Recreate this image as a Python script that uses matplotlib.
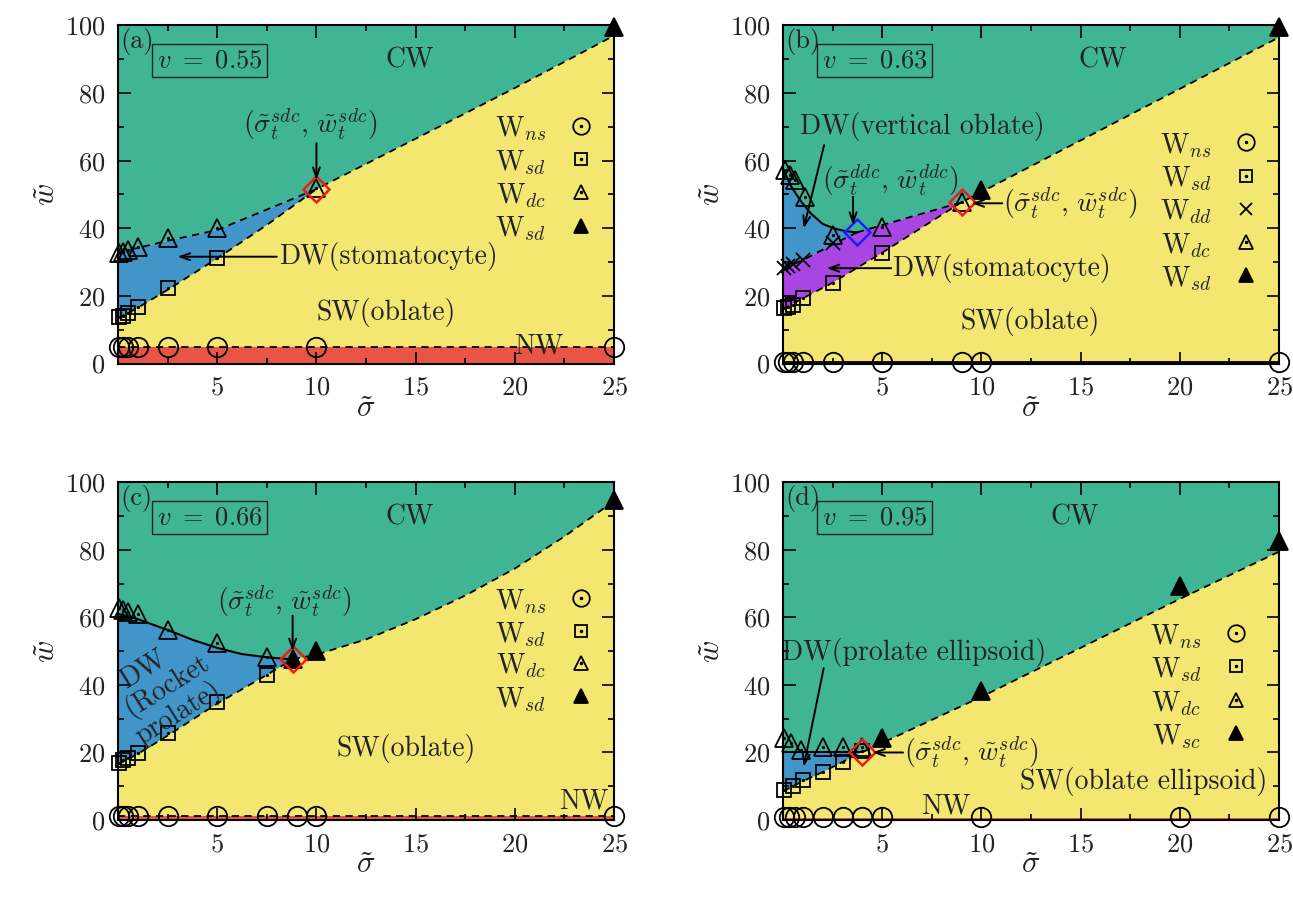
import matplotlib
matplotlib.use('Agg')
import matplotlib.pyplot as plt
from matplotlib.ticker import MultipleLocator, FixedLocator

plt.rcParams['font.family'] = 'serif'
plt.rcParams['font.serif'] = ['cmr10']
plt.rcParams['mathtext.fontset'] = 'cm'
plt.rcParams['axes.formatter.use_mathtext'] = True
plt.rcParams['axes.unicode_minus'] = False

CW_COL = '#40b596'
SW_COL = '#f3e771'
NW_COL = '#e85546'
DW_COL = '#4195c9'
DW2_COL = '#a946e1'
TXT = '#222222'

# ---------- panel (a), v = 0.55 ----------
a_ns_sig = [0.05, 0.25, 0.5, 1, 2.5, 5, 10, 25]
a_ns_w = [5, 5, 5, 5, 5, 5, 5, 5]
a_sd_sig = [0.05, 0.25, 0.5, 1, 2.5, 5]
a_sd_w = [13.8, 14.1, 14.9, 16.8, 22.2, 31.1]
a_dc_sig = [0.05, 0.25, 0.5, 1, 2.5, 5, 10]
a_dc_w = [32.6, 33.1, 33.6, 34.4, 37.0, 40.0, 51.8]
a_sc_sig = [25]
a_sc_w = [99.5]
a_tp = (10, 51.6)
a_up_sig = [0, 1, 2.5, 5, 10, 15, 20, 25]
a_up_w = [33, 34.2, 36.3, 39.5, 51.6, 66.5, 81.5, 97]
a_lo_sig = [0, 1, 2.5, 5, 7.5, 10]
a_lo_w = [13.4, 16.5, 21.8, 31.1, 41, 51.6]
a_nw = 5

# ---------- panel (b), v = 0.63 ----------
b_ns_sig = [0.05, 0.25, 0.5, 1, 2.5, 5, 9, 10, 25]
b_ns_w = [0.5, 0.5, 0.5, 0.5, 0.5, 0.5, 0.5, 0.5, 0.5]
b_sd_sig = [0.05, 0.25, 0.5, 1, 2.5, 5]
b_sd_w = [16.3, 16.8, 17.3, 19.3, 23.9, 32.8]
b_dd_sig = [0.05, 0.25, 0.5, 1, 2.5]
b_dd_w = [28.2, 28.8, 29.4, 30.6, 35.6]
b_dc_sig = [0.1, 0.35, 0.6, 1.1, 2.5, 5, 9]
b_dc_w = [57.2, 55.8, 54.3, 49.3, 38.0, 40.3, 47.7]
b_sc_sig = [10, 25]
b_sc_w = [51.3, 99.5]
b_tp_sdc = (9, 47.7)
b_tp_ddc = (3.73, 38.8)
b_top_sig = [0, 0.4, 0.9, 1.4, 2.0, 2.6, 3.2, 3.73]
b_top_w = [57.5, 52.5, 48.0, 44.4, 41.3, 39.9, 39.1, 38.8]
b_mid_sig = [0, 0.05, 0.25, 0.5, 1, 2.5, 3.73]
b_mid_w = [27.8, 28.0, 28.6, 29.3, 30.6, 35.2, 38.8]
b_up_sig = [3.73, 9, 17, 25]
b_up_w = [38.8, 47.7, 72.1, 96.5]
b_lo_sig = [0, 0.05, 1, 2.5, 5, 9]
b_lo_w = [16.0, 16.3, 19.3, 23.9, 32.8, 47.7]
b_nw = 0.3

# ---------- panel (c), v = 0.66 ----------
c_ns_sig = [0.05, 0.25, 0.5, 1, 2.5, 5, 7.5, 9, 10, 25]
c_ns_w = [1.3, 1.3, 1.3, 1.3, 1.3, 1.3, 1.3, 1.3, 1.3, 1.3]
c_sd_sig = [0.05, 0.25, 0.5, 1, 2.5, 5, 7.5]
c_sd_w = [16.8, 17.8, 18.3, 19.8, 25.7, 35.1, 43.0]
c_dc_sig = [0.05, 0.25, 0.5, 1, 2.5, 5, 7.5]
c_dc_w = [62.7, 62.2, 61.7, 60.9, 56.3, 52.5, 48.4]
c_sc_sig = [8.8, 10, 25]
c_sc_w = [47.7, 50.2, 94.8]
c_tp = (8.8, 47.6)
c_top_sig = [0, 0.5, 1, 2.5, 3.8, 5, 6.2, 7.5, 8.8]
c_top_w = [61, 60.4, 59.5, 56.3, 53.3, 51, 49.2, 48.2, 47.6]
c_up_sig = [8.8, 10, 12.5, 15, 17.5, 20, 22.5, 25]
c_up_w = [47.6, 49, 53.5, 59.5, 66.5, 74.5, 84, 94.5]
c_lo_sig = [0, 1, 2.5, 5, 7.5, 8.8]
c_lo_w = [16.5, 19.6, 25, 34.5, 43, 47.6]
c_nw = 1.3

# ---------- panel (d), v = 0.95 ----------
d_ns_sig = [0.05, 0.3, 0.6, 1, 2, 3, 4, 5, 10, 20, 25]
d_ns_w = [0.8, 0.8, 0.8, 0.8, 0.8, 0.8, 0.8, 0.8, 0.8, 0.8, 0.8]
d_sd_sig = [0.05, 0.5, 1, 2, 3, 4]
d_sd_w = [8.9, 10.2, 11.9, 14.3, 17.3, 20.5]
d_dc_sig = [0.05, 0.4, 0.9, 2, 3, 4]
d_dc_w = [24.2, 22.7, 20.8, 21.6, 21.6, 21.6]
d_sc_sig = [5, 10, 20, 25]
d_sc_w = [24.2, 38.3, 69.2, 82.6]
d_tp = (4.0, 20.1)
d_top_sig = [0, 4.0]
d_top_w = [20.1, 20.1]
d_up_sig = [4.0, 10, 15, 20, 25]
d_up_w = [20.1, 36.5, 51, 65.5, 79.5]
d_lo_sig = [0, 0.5, 1, 2, 3, 4.0]
d_lo_w = [8.5, 10, 11.5, 14.2, 17.2, 20.1]
d_nw = 0.6

MS = {'o': 14, 's': 10, '^': 12.5, 'x': 10}


def style_axes(ax, tag, vol):
    ax.set_facecolor(CW_COL)
    ax.set_xlim(0, 25)
    ax.set_ylim(0, 100)
    ax.set_xticks([5, 10, 15, 20, 25])
    ax.xaxis.set_minor_locator(FixedLocator([2.5, 7.5, 12.5, 17.5, 22.5]))
    ax.set_yticks([0, 20, 40, 60, 80, 100])
    ax.yaxis.set_minor_locator(MultipleLocator(10))
    ax.tick_params(which='both', direction='in', top=True, right=True,
                   width=1.2, labelsize=19, pad=9, colors='k', labelcolor=TXT)
    ax.tick_params(which='major', length=9)
    ax.tick_params(which='minor', length=4.5)
    for sp in ax.spines.values():
        sp.set_linewidth(1.5)
    ax.set_xlabel(r'$\tilde{\sigma}$', fontsize=22, labelpad=-3, color=TXT)
    ax.set_ylabel(r'$\tilde{w}$', fontsize=22, labelpad=3, color=TXT)
    ax.text(0.004, 0.993, tag, transform=ax.transAxes, ha='left', va='top',
            fontsize=19, color=TXT)
    ax.text(0.1845, 0.8964, r'$v\ =\ %s$' % vol, transform=ax.transAxes,
            ha='center', va='center', fontsize=19, color=TXT,
            bbox=dict(boxstyle='square,pad=0.18', fc='none', ec=TXT, lw=1.0))


def marks(ax, sig, w, m, filled=False, dot=False):
    ax.plot(sig, w, ls='none', marker=m, ms=MS[m], mfc='k' if filled else 'none',
            mec='k', mew=1.3, clip_on=False, zorder=5)
    if dot:
        ax.plot(sig, w, ls='none', marker='o', ms=1.3, color='k',
                clip_on=False, zorder=5)


def legend(ax, rows, xt, xm, ys):
    for (lab, m, filled), y in zip(rows, ys):
        ax.text(xt, y, lab, transform=ax.transAxes, ha='right', va='center',
                fontsize=20, color=TXT)
        ax.plot([xm], [y + 0.01], transform=ax.transAxes, marker=m, ms=MS[m] * 0.85,
                mfc='k' if filled else 'none', mec='k', mew=1.3, zorder=6)
        if not filled and m != 'x':
            ax.plot([xm], [y + 0.01], transform=ax.transAxes, marker='o',
                    ms=1.5, color='k', zorder=6)


def arrow(ax, tail, head):
    ax.annotate('', xy=head, xytext=tail, zorder=7,
                arrowprops=dict(arrowstyle='->,head_length=0.7,head_width=0.25',
                                lw=1.4, color='k', shrinkA=0, shrinkB=0))


def dashed(ax, sig, w):
    ax.plot(sig, w, color='k', lw=1.3, ls=(0, (4, 3)), zorder=3)


def solid(ax, sig, w):
    ax.plot(sig, w, color='k', lw=1.5, zorder=3)


def upto(sig, w, lim):
    s = [x for x in sig if x <= lim]
    return s, w[:len(s)]


def tp_marker(ax, p, col):
    ax.plot([p[0]], [p[1]], ls='none', marker='D', ms=13, mfc='none',
            mec=col, mew=1.8, zorder=6, clip_on=False)


def label(ax, x, y, s, ha='center', **kw):
    ax.text(x, y, s, fontsize=20, ha=ha, va='center', color=TXT, zorder=7, **kw)


sdc_lab = r'$(\tilde{\sigma}_t^{sdc},\,\tilde{w}_t^{sdc})$'
ddc_lab = r'$(\tilde{\sigma}_t^{ddc},\,\tilde{w}_t^{ddc})$'
W = lambda s: r'W$_{%s}$' % s

fig = plt.figure(figsize=(12.93, 9), dpi=100)
axa = fig.add_axes([0.0913, 0.5961, 0.3836, 0.3756])
axb = fig.add_axes([0.6056, 0.5961, 0.3836, 0.3756])
axc = fig.add_axes([0.0913, 0.0889, 0.3836, 0.375])
axd = fig.add_axes([0.6056, 0.0889, 0.3836, 0.375])

# ----- (a) -----
ax = axa
style_axes(ax, '(a)', '0.55')
ax.fill(a_up_sig + [25, 0], a_up_w + [0, 0], color=SW_COL, lw=0, zorder=1)
us, uw = upto(a_up_sig, a_up_w, a_tp[0])
ax.fill(us + a_lo_sig[::-1], uw + a_lo_w[::-1], color=DW_COL, lw=0, zorder=1)
ax.fill([0, 25, 25, 0], [0, 0, a_nw, a_nw], color=NW_COL, lw=0, zorder=1)
dashed(ax, a_up_sig, a_up_w)
dashed(ax, a_lo_sig, a_lo_w)
dashed(ax, [0, 25], [a_nw, a_nw])
marks(ax, a_ns_sig, a_ns_w, 'o')
marks(ax, a_sd_sig, a_sd_w, 's', dot=True)
marks(ax, a_dc_sig, a_dc_w, '^', dot=True)
marks(ax, a_sc_sig, a_sc_w, '^', filled=True)
tp_marker(ax, a_tp, '#ee1c1c')
label(ax, 14.7, 89.8, 'CW')
label(ax, 9.7, 70.6, sdc_lab)
arrow(ax, (10, 65.2), (10, 54.3))
label(ax, 8.1, 31.6, 'DW(stomatocyte)', ha='left')
arrow(ax, (8.0, 31.6), (3.0, 31.6))
label(ax, 13.5, 15.2, 'SW(oblate)')
label(ax, 21.2, 5.2, 'NW')
legend(ax, [(W('ns'), 'o', False), (W('sd'), 's', False),
            (W('dc'), '^', False), (W('sd'), '^', True)],
       0.863, 0.933, [0.694, 0.595, 0.497, 0.398])

# ----- (b) -----
ax = axb
style_axes(ax, '(b)', '0.63')
ax.fill(b_top_sig + b_up_sig[1:] + [25, 0], b_top_w + b_up_w[1:] + [0, 0],
        color=SW_COL, lw=0, zorder=1)
ax.fill(b_top_sig + b_mid_sig[::-1], b_top_w + b_mid_w[::-1], color=DW_COL, lw=0, zorder=1)
us, uw = upto(b_up_sig, b_up_w, b_tp_sdc[0])
ax.fill(b_mid_sig + us[1:] + b_lo_sig[::-1], b_mid_w + uw[1:] + b_lo_w[::-1],
        color=DW2_COL, lw=0, zorder=1)
ax.fill([0, 25, 25, 0], [0, 0, b_nw, b_nw], color=NW_COL, lw=0, zorder=1)
solid(ax, b_top_sig, b_top_w)
dashed(ax, b_mid_sig, b_mid_w)
dashed(ax, b_up_sig, b_up_w)
dashed(ax, b_lo_sig, b_lo_w)
ax.plot([0, 25], [b_nw, b_nw], color='k', lw=2, zorder=3)
marks(ax, b_ns_sig, b_ns_w, 'o')
marks(ax, b_sd_sig, b_sd_w, 's', dot=True)
marks(ax, b_dd_sig, b_dd_w, 'x')
marks(ax, b_dc_sig, b_dc_w, '^', dot=True)
marks(ax, b_sc_sig, b_sc_w, '^', filled=True)
tp_marker(ax, b_tp_sdc, '#ee1c1c')
tp_marker(ax, b_tp_ddc, '#1c1cff')
label(ax, 16.1, 89.8, 'CW')
label(ax, 7.0, 70.0, 'DW(vertical oblate)')
arrow(ax, (2.07, 64.6), (1.04, 40.0))
label(ax, 5.4, 54.0, ddc_lab)
arrow(ax, (3.53, 49.3), (3.53, 41.0))
label(ax, 11.1, 47.2, sdc_lab, ha='left')
arrow(ax, (11.05, 47.4), (9.5, 47.4))
label(ax, 5.5, 28.2, 'DW(stomatocyte)', ha='left')
arrow(ax, (5.45, 28.2), (2.2, 28.2))
label(ax, 12.45, 12.3, 'SW(oblate)')
legend(ax, [(W('ns'), 'o', False), (W('sd'), 's', False),
            (W('dd'), 'x', False), (W('dc'), '^', False),
            (W('sd'), '^', True)],
       0.864, 0.934, [0.645, 0.546, 0.448, 0.349, 0.251])

# ----- (c) -----
ax = axc
style_axes(ax, '(c)', '0.66')
ax.fill(c_top_sig + c_up_sig[1:] + [25, 0], c_top_w + c_up_w[1:] + [0, 0],
        color=SW_COL, lw=0, zorder=1)
ax.fill(c_top_sig + c_lo_sig[::-1], c_top_w + c_lo_w[::-1], color=DW_COL, lw=0, zorder=1)
ax.fill([0, 25, 25, 0], [0, 0, c_nw, c_nw], color=NW_COL, lw=0, zorder=1)
solid(ax, c_top_sig, c_top_w)
dashed(ax, c_up_sig, c_up_w)
dashed(ax, c_lo_sig, c_lo_w)
dashed(ax, [0, 25], [c_nw, c_nw])
marks(ax, c_ns_sig, c_ns_w, 'o')
marks(ax, c_sd_sig, c_sd_w, 's', dot=True)
marks(ax, c_dc_sig, c_dc_w, '^', dot=True)
marks(ax, c_sc_sig, c_sc_w, '^', filled=True)
tp_marker(ax, c_tp, '#ee1c1c')
label(ax, 14.7, 89.8, 'CW')
label(ax, 8.4, 64.7, sdc_lab)
arrow(ax, (8.8, 60.5), (8.8, 50.0))
label(ax, 1.25, 44.6, 'DW', rotation=32)
label(ax, 2.45, 39.9, '(Rocket', rotation=32)
label(ax, 3.05, 31.5, 'prolate)', rotation=32)
label(ax, 14.5, 21.3, 'SW(oblate)')
label(ax, 23.5, 5.5, 'NW')
legend(ax, [(W('ns'), 'o', False), (W('sd'), 's', False),
            (W('dc'), '^', False), (W('sd'), '^', True)],
       0.863, 0.933, [0.647, 0.549, 0.456, 0.356])

# ----- (d) -----
ax = axd
style_axes(ax, '(d)', '0.95')
ax.fill(d_top_sig + d_up_sig[1:] + [25, 0], d_top_w + d_up_w[1:] + [0, 0],
        color=SW_COL, lw=0, zorder=1)
ax.fill(d_top_sig + d_lo_sig[::-1], d_top_w + d_lo_w[::-1], color=DW_COL, lw=0, zorder=1)
ax.fill([0, 25, 25, 0], [0, 0, d_nw, d_nw], color=NW_COL, lw=0, zorder=1)
solid(ax, d_top_sig, d_top_w)
dashed(ax, d_up_sig, d_up_w)
dashed(ax, d_lo_sig, d_lo_w)
marks(ax, d_ns_sig, d_ns_w, 'o')
marks(ax, d_sd_sig, d_sd_w, 's', dot=True)
marks(ax, d_dc_sig, d_dc_w, '^', dot=True)
marks(ax, d_sc_sig, d_sc_w, '^', filled=True)
tp_marker(ax, d_tp, '#ee1c1c')
label(ax, 14.7, 89.8, 'CW')
label(ax, 6.6, 49.6, 'DW(prolate ellipsoid)')
arrow(ax, (2.05, 45.0), (1.04, 15.8))
label(ax, 6.1, 19.8, sdc_lab, ha='left')
arrow(ax, (6.05, 20.0), (4.5, 20.0))
label(ax, 18.2, 11.5, 'SW(oblate ellipsoid)')
label(ax, 8.2, 3.9, 'NW')
legend(ax, [(W('ns'), 'o', False), (W('sd'), 's', False),
            (W('dc'), '^', False), (W('sc'), '^', True)],
       0.844, 0.914, [0.544, 0.445, 0.346, 0.247])

fig.savefig('out.png', dpi=100)
